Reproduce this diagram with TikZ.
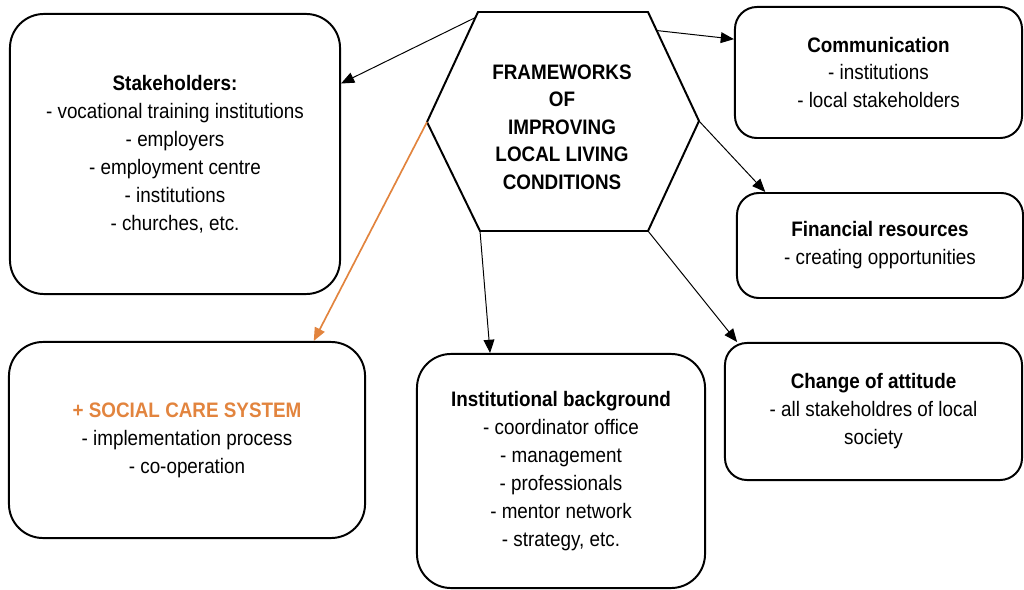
\documentclass[tikz,border=0pt]{standalone}
\usepackage{fontspec}
\setmainfont{Liberation Sans}[FakeStretch=0.9]
\usetikzlibrary{arrows.meta,calc}
\definecolor{careorange}{RGB}{226,132,62}

\begin{document}
\begin{tikzpicture}[x=0.025cm, y=-0.025cm,
        box/.style={draw, line width=1.4pt, rounded corners=0.85cm, align=center, inner sep=0pt, font=\fontsize{14.9}{19.9}\selectfont},
        smallbox/.style={box, rounded corners=0.55cm},
        link/.style={-{Triangle[length=3.3mm,width=2.7mm]}, line width=0.7pt}]
        \useasboundingbox (0,0) rectangle (1024,590);

        \coordinate (h1) at (478,12);
        \coordinate (h2) at (648,12);
        \coordinate (h3) at (699,121);
        \coordinate (h4) at (648,231);
        \coordinate (h5) at (480,231);
        \coordinate (h6) at (427,122);
        \draw[line width=1.4pt] (h1) -- (h2) -- (h3) -- (h4) -- (h5) -- (h6) -- cycle;
        \node[align=center, font=\fontsize{14.9}{19.6}\selectfont\bfseries] (frame) at (562,127) {FRAMEWORKS\\OF\\IMPROVING\\LOCAL LIVING\\CONDITIONS};

        \node[box, minimum width=8.25cm, minimum height=7cm] (stake) at (175,154)
            {\textbf{Stakeholders:}\\- vocational training institutions\\- employers\\- employment centre\\- institutions\\- churches, etc.};
        \node[smallbox, minimum width=7.175cm, minimum height=3.275cm] (comm) at (878.5,72.5)
            {\textbf{Communication}\\- institutions\\- local stakeholders};
        \node[smallbox, minimum width=7.15cm, minimum height=2.625cm] (fin) at (880,245.5)
            {\textbf{Financial resources}\\- creating opportunities};
        \node[box, minimum width=8.9cm, minimum height=4.9cm] (care) at (187,440)
            {\textcolor{careorange}{\textbf{+ SOCIAL CARE SYSTEM}}\\- implementation process\\- co-operation};
        \node[box, minimum width=7.2cm, minimum height=5.85cm] (inst) at (561,471)
            {\textbf{Institutional background}\\- coordinator office\\- management\\- professionals\\- mentor network\\- strategy, etc.};
        \node[smallbox, minimum width=7.425cm, minimum height=3.425cm] (attitude) at (873.5,411.5)
            {\textbf{Change of attitude}\\- all stakeholdres of local\\society};

        \draw[link] ($(h1)!0.05!(h6)$) -- (stake.23.6);
        \draw[link] ($(h2)!0.17!(h3)$) -- (comm.167);
        \draw[link] (h3) -- (fin.155);
        \draw[link] (h4) -- (attitude.153.5);
        \draw[link] (h5) -- (inst.121);
        \draw[link, careorange, line width=1.2pt] (h6) -- (care.38);

    \end{tikzpicture}
\end{document}
